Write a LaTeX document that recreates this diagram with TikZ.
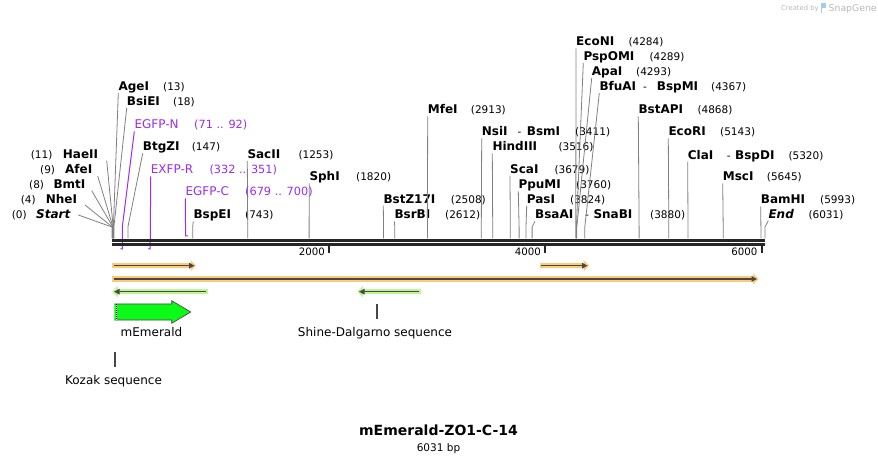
\documentclass[tikz,border=0pt]{standalone}
\usepackage{fontspec}
\setmainfont{DejaVu Sans}
\usetikzlibrary{arrows.meta}
\definecolor{seqc}{RGB}{38,38,38}
\definecolor{sitec}{RGB}{128,128,128}
\definecolor{prim}{RGB}{155,45,235}
\definecolor{ohalo}{RGB}{252,202,120}
\definecolor{ghalo}{RGB}{190,246,150}
\definecolor{corec}{RGB}{72,72,72}
\definecolor{emer}{RGB}{12,250,24}
\definecolor{sgray}{RGB}{185,185,185}
\definecolor{sblue}{RGB}{160,205,240}
\begin{document}
\begin{tikzpicture}[x=1pt,y=-1pt,
  enz/.style={inner sep=0pt, anchor=base west, font=\fontsize{12}{14}\selectfont\bfseries},
  num/.style={inner sep=0pt, anchor=base west, font=\fontsize{10.5}{12}\selectfont},
  plbl/.style={inner sep=0pt, anchor=base west, text=prim, font=\fontsize{12}{14}\selectfont},
  pnum/.style={inner sep=0pt, anchor=base west, text=prim, font=\fontsize{11.3}{13}\selectfont},
  sitel/.style={draw=sitec, line width=0.8pt},
  primline/.style={draw=prim, line width=1pt},
  fhalo/.style={line width=5.5pt, draw=#1, -{Triangle[length=5.5pt,width=11pt]}},
  fcore/.style={line width=1.6pt, draw=corec, -{Triangle[length=5.5pt,width=5.5pt]}},
  flbl/.style={inner sep=0pt, anchor=base, font=\fontsize{12}{14}\selectfont},
  tickl/.style={inner sep=0pt, anchor=base east, font=\fontsize{10.2}{12}\selectfont},
  ftick/.style={draw=corec, line width=2pt}
]
\useasboundingbox (0,0) rectangle (878,462);
\fill[white] (0,0) rectangle (878,462);

% --- site lines and labels (single enzymes)
\foreach \nm/\x/\y/\pos/\nx/\s in {
  AgeI/118.3/90.7/13/163/113.4,
  BsiEI/126.7/105.7/18/173/113.9,
  BtgZI/142.7/151/147/191.7/127.9,
  BspEI/193.3/219/743/245/192.7,
  SacII/247.3/158.7/1253/298.3/247.7,
  SphI/309.3/181/1820/356/309.1,
  BstZ17I/383.3/203.3/2508/450.7/383.5,
  BsrBI/394.3/219/2612/445/394.8,
  MfeI/427.7/114/2913/470.7/427.4,
  HindIII/492.3/151/3516/558.3/492.7,
  ScaI/510/173.3/3679/554.3/510.3,
  PpuMI/518.3/189/3760/576/519.1,
  PasI/526.7/203.3/3824/570/526.0,
  EcoNI/576/46/4284/628.3/575.8,
  PspOMI/583.3/60.7/4289/649.3/576.4,
  ApaI/591.7/75.7/4293/636/576.8,
  BstAPI/638.3/114/4868/697.3/639.1,
  EcoRI/668.3/136/5143/720/668.8,
  MscI/722.7/181/5645/766.7/723.2,
  BamHI/760.7/204/5993/820/760.9}{
  \node[enz] (\nm) at (\x,\y) {\nm};
  \node[num] (n\nm) at (\nx,\y) {(\pos)};
  \draw[sitel] ([yshift=-2.3pt]\nm.base west) -- (\s,227) -- (\s,238.5);
}

% --- paired enzyme labels
\foreach \a/\b/\x/\y/\dx/\bx/\pos/\nx/\s in {
  NsiI/BsmI/481.7/136/517.3/526.7/3411/575/481.3,
  BsaAI/SnaBI/535/219/585/593.3/3880/650/532.1,
  BfuAI/BspMI/599.3/90.7/643/656.7/4367/711/584.8,
  ClaI/BspDI/687.7/159.3/726.7/735/5320/788.3/688.0}{
  \node[enz] (\a) at (\x,\y) {\a};
  \node[num] (d\a) at (\dx,\y) {-};
  \node[enz] (\b) at (\bx,\y) {\b};
  \node[num] (n\a) at (\nx,\y) {(\pos)};
  \draw[sitel] ([yshift=-2.3pt]\a.base west) -- (\s,227) -- (\s,238.5);
}

% --- End
\node[enz, font=\fontsize{12}{14}\selectfont\bfseries\itshape] (End) at (768.3,218.3) {End};
\node[num] (nEnd) at (808.3,218.3) {(6031)};
\draw[sitel] ([yshift=-2.3pt]End.base west) -- (765,227) -- (765,238.5);

% --- left cluster
\foreach \nm/\x/\y/\pos/\nx/\lx/\ly/\s in {
  HaeII/62.7/158.7/11/30.7/106.7/160.7/113.2,
  AfeI/65/173.7/9/40/97.7/176/113.0,
  BmtI/53.3/188.7/8/29/91.7/190.7/112.9,
  NheI/45.7/203.3/4/20.7/85/205/112.4}{
  \node[enz] (\nm) at (\x,\y) {\nm};
  \node[num] (n\nm) at (\nx,\y) {(\pos)};
  \coordinate (l\nm) at (\lx,\ly);
  \draw[sitel] (l\nm) -- (\s,227) -- (\s,238.5);
}
\node[enz, font=\fontsize{12}{14}\selectfont\bfseries\itshape] (Start) at (36,218.3) {Start};
\node[num] (nStart) at (11.7,218.3) {(0)};
\coordinate (lStart) at (78.3,215);
\draw[sitel] (lStart) -- (112,227) -- (112,238.5);

% --- primers
\node[plbl] (EGFPN) at (134.3,129) {EGFP-N};
\node[pnum] (nEGFPN) at (194,129) {(71 .. 92)};
\draw[primline] ([yshift=-2.5pt]EGFPN.base west) -- (122.3,227) -- (122.3,249) -- (120.3,249);
\node[plbl] (EXFPR) at (150.7,174) {EXFP-R};
\node[pnum] (nEXFPR) at (209.3,174) {(332 .. 351)};
\draw[primline] ([yshift=-2.5pt]EXFPR.base west) -- (150.2,249) -- (148.2,249);
\node[plbl] (EGFPC) at (185.3,196) {EGFP-C};
\node[pnum] (nEGFPC) at (245,196) {(679 .. 700)};
\draw[primline] ([yshift=-2.5pt]EGFPC.base west) -- (185.6,236) -- (187.8,236);

% --- sequence line
\coordinate (seqL1) at (112,240.3);
\coordinate (seqR1) at (765,240.3);
\coordinate (seqL2) at (112,244.7);
\coordinate (seqR2) at (765,244.7);
\draw[seqc, line width=2.7pt] (seqL1) -- (seqR1);
\draw[seqc, line width=2.7pt] (seqL2) -- (seqR2);

% --- scale ticks
\foreach \v/\tx in {2000/329, 4000/545, 6000/761.5}{
  \coordinate (tk\v) at (\tx,245);
  \draw[seqc, line width=2pt] (tk\v) -- ++(0,7.7);
  \node[tickl] (tl\v) at (\tx-4,255.7) {\v};
}

% --- features (orange, forward)
\draw[fhalo=ohalo] (112,265.7) -- (196,265.7);
\draw[fcore] (113.5,265.7) -- (194.5,265.7);
\draw[fhalo=ohalo] (112,279) -- (758.5,279);
\draw[fcore] (113.5,279) -- (757,279);
\draw[fhalo=ohalo] (539.5,265.7) -- (589,265.7);
\draw[fcore] (541,265.7) -- (587.5,265.7);
% --- features (green, reverse)
\draw[fhalo=ghalo] (207.5,291.7) -- (112.3,291.7);
\draw[fcore] (206,291.7) -- (114,291.7);
\draw[fhalo=ghalo] (420.5,291.7) -- (357.3,291.7);
\draw[fcore] (419,291.7) -- (359,291.7);

% --- mEmerald arrow
\fill[emer] (114.3,304) -- (171.7,304) -- (171.7,300.7) -- (190.7,312) -- (171.7,323.3) -- (171.7,320) -- (114.3,320) -- cycle;
\draw[corec, line width=0.7pt, line join=miter] (114.3,304) -- (171.7,304) -- (171.7,300.7) -- (190.7,312) -- (171.7,323.3) -- (171.7,320) -- (114.3,320);
\draw[white, line width=0.8pt] (116.5,304.4) -- (116.5,319.6);
\draw[black, line width=0.8pt, dash pattern=on 1pt off 1pt] (116.5,304.4) -- (116.5,319.6);
\node[flbl] (mEm) at (151.5,337) {mEmerald};

% --- Shine-Dalgarno
\coordinate (sdA) at (377,304);
\draw[ftick] (sdA) -- ++(0,15);
\node[flbl] (sd) at (375,337) {Shine-Dalgarno sequence};

% --- Kozak
\coordinate (kzA) at (115,351.5);
\draw[ftick] (kzA) -- ++(0,15);
\node[flbl] (kz) at (113.5,384) {Kozak sequence};

% --- title
\node[inner sep=0pt, anchor=base, font=\fontsize{14}{16}\selectfont\bfseries] (title) at (438.5,435.7) {mEmerald-ZO1-C-14};
\node[inner sep=0pt, anchor=base, font=\fontsize{10.5}{12}\selectfont] (bp) at (438.5,451.3) {6031 bp};

% --- watermark
\node[inner sep=0pt, anchor=base west, text=sgray, font=\fontsize{6.8}{8}\selectfont] (cby) at (781,10.5) {Created by};
\fill[sblue] (820.5,3) rectangle (822.3,13.5);
\fill[sblue] (822.3,3) rectangle (825.5,8.5);
\node[inner sep=0pt, anchor=base west, text=sgray, font=\fontsize{9.3}{11}\selectfont] (sg) at (828.5,11.5) {SnapGene};
\end{tikzpicture}
\end{document}
